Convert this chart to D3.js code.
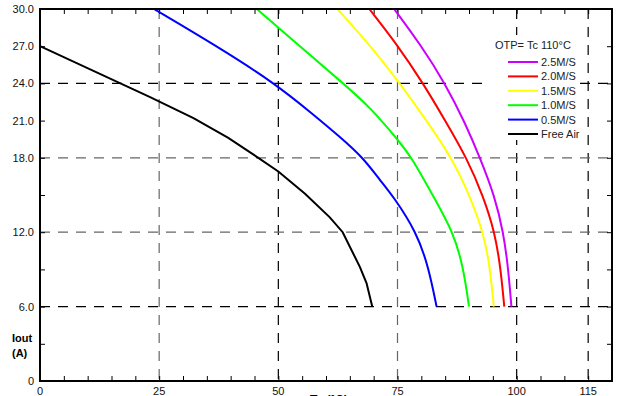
<!DOCTYPE html>
<html>
<head>
<meta charset="utf-8">
<script src="https://cdn.jsdelivr.net/npm/d3@7"></script>
<style>
  body { margin: 0; background: #fff; }
  svg { display: block; font-family: "Liberation Sans", Arial, sans-serif; }
</style>
</head>
<body>
<svg id="chart" width="617" height="396"></svg>
<script>
// derating curves, Tc in degC vs Iout in A
var seriesNames = ["2.5M/S", "2.0M/S", "1.5M/S", "1.0M/S", "0.5M/S", "Free Air"];
var seriesColors = ["#cc00ff", "#ff0000", "#ffff00", "#00ff00", "#0000ff", "#000000"];

var tc25 = [74.3, 79.7, 85.0, 89.2, 92.3, 95.4, 97.2, 98.2, 98.9];
var io25 = [30, 27.2, 24, 20.8, 18, 14.9, 12, 9.2, 6];
var tc20 = [69.1, 74.8, 80.4, 85.3, 89.5, 93.0, 95.4, 96.6, 97.4];
var io20 = [30, 27.2, 24, 20.8, 18, 14.9, 12, 9.2, 6];
var tc15 = [62.4, 69.2, 75.5, 81.1, 86.4, 90.2, 93.0, 94.4, 95.2];
var io15 = [30, 27.1, 24, 21.0, 18, 14.9, 12, 9.2, 6];
var tc10 = [45.5, 54.5, 63.6, 69.2, 75.2, 78.0, 82.5, 86.7, 88.8, 90.0];
var io10 = [30, 27.0, 24, 22.1, 19.4, 18, 14.9, 12, 9.2, 6];
var tc05 = [23.9, 37.1, 49.3, 57.3, 62.9, 67.8, 71.3, 74.1, 79.0, 81.5, 83.2];
var io05 = [30, 27.0, 24, 21.5, 19.7, 18, 16.2, 14.9, 12, 9.2, 6];
var tcAir = [0, 23.1, 32.2, 39.5, 45.8, 50.0, 55.6, 60.8, 63.5, 67.1, 68.5, 69.7];
var ioAir = [27, 22.9, 21.2, 19.6, 18, 16.9, 15.1, 13.2, 12, 9.2, 7.9, 6];

var xTicks = [0, 25, 50, 75, 100, 115];
var yTicks = [0, 6, 12, 18, 21, 24, 27, 30];
var xGrid = [25, 50, 75, 100, 115];
var yGrid = [6, 12, 18, 24];
var greyX = [25, 75];
var greyY = [12, 18];

var tcs = [tc25, tc20, tc15, tc10, tc05, tcAir];
var ios = [io25, io20, io15, io10, io05, ioAir];

var svg = d3.select("#chart");
var x = d3.scaleLinear().domain([0, 120]).range([40, 612]);
var y = d3.scaleLinear().domain([0, 30]).range([381, 9]);

// grid
svg.selectAll(".gx").data(xGrid).enter().append("line")
	.attr("x1", function(d){return x(d);}).attr("x2", function(d){return x(d);})
	.attr("y1", y(30)).attr("y2", y(0))
	.attr("stroke", function(d){return greyX.indexOf(d) >= 0 ? "#666" : "#000";})
	.attr("stroke-width", 1.2)
	.attr("stroke-dasharray", "10,8");
svg.selectAll(".gy").data(yGrid).enter().append("line")
	.attr("x1", x(0)).attr("x2", x(120))
	.attr("y1", function(d){return y(d);}).attr("y2", function(d){return y(d);})
	.attr("stroke", function(d){return greyY.indexOf(d) >= 0 ? "#666" : "#000";})
	.attr("stroke-width", 1.2)
	.attr("stroke-dasharray", "10,8");

// axes with inward ticks
var minorX = d3.range(0, 121, 5);
var minorY = d3.range(0, 31, 3);
svg.append("g").attr("transform", "translate(0," + y(0) + ")")
	.call(d3.axisTop(x).tickValues(minorX).tickFormat("").tickSize(5).tickSizeOuter(0))
	.call(function(g){ g.select(".domain").remove(); });
svg.append("g").attr("transform", "translate(0," + y(30) + ")")
	.call(d3.axisBottom(x).tickValues(minorX).tickFormat("").tickSize(5).tickSizeOuter(0))
	.call(function(g){ g.select(".domain").remove(); });
svg.append("g").attr("transform", "translate(" + x(0) + ",0)")
	.call(d3.axisRight(y).tickValues(minorY).tickFormat("").tickSize(5).tickSizeOuter(0))
	.call(function(g){ g.select(".domain").remove(); });
svg.append("g").attr("transform", "translate(" + x(120) + ",0)")
	.call(d3.axisLeft(y).tickValues(minorY).tickFormat("").tickSize(5).tickSizeOuter(0))
	.call(function(g){ g.select(".domain").remove(); });

// tick labels
svg.selectAll(".xl").data(xTicks).enter().append("text")
	.attr("x", function(d){return x(d);}).attr("y", 395)
	.attr("text-anchor", "middle").attr("font-size", "11px").attr("fill", "#111")
	.text(function(d){return d;});
svg.selectAll(".yl").data(yTicks).enter().append("text")
	.attr("x", 34).attr("y", function(d){return y(d) + 4;})
	.attr("text-anchor", "end").attr("font-size", "11px").attr("fill", "#111")
	.text(function(d){return d === 0 ? "0" : d3.format(".1f")(d);});

// axis titles
svg.append("text").attr("x", 12).attr("y", 342).attr("font-size", "11px").attr("font-weight", "bold").text("Iout");
svg.append("text").attr("x", 12).attr("y", 357).attr("font-size", "11px").attr("font-weight", "bold").text("(A)");
svg.append("text").attr("x", 310).attr("y", 404).attr("font-size", "12px").attr("font-weight", "bold").text("Tc (°C)");

// curves
var line = d3.line()
	.x(function(d){return x(d[0]);})
	.y(function(d){return y(d[1]);});
tcs.forEach(function(tc, i){
	var pts = tc.map(function(t, j){return [t, ios[i][j]];});
	line.curve(i == 5 ? d3.curveLinear : d3.curveBasis);
	svg.append("path")
		.attr("d", line(pts))
		.attr("fill", "none")
		.attr("stroke", seriesColors[i])
		.attr("stroke-width", 2);
});

// frame
svg.append("rect")
	.attr("x", x(0)).attr("y", y(30))
	.attr("width", x(120) - x(0)).attr("height", y(0) - y(30))
	.attr("fill", "none").attr("stroke", "#000").attr("stroke-width", 2);

// legend
var lg = svg.append("g");
lg.append("rect").attr("x", 489).attr("y", 35).attr("width", 91).attr("height", 105).attr("fill", "#fff");
lg.append("text").attr("x", 495).attr("y", 49).attr("font-size", "11px").attr("fill", "#222").text("OTP= Tc 110°C");
seriesNames.forEach(function(n, i){
	var yy = 62 + i * 14.4;
	lg.append("line").attr("x1", 508).attr("x2", 538).attr("y1", yy).attr("y2", yy)
		.attr("stroke", seriesColors[i]).attr("stroke-width", 2);
	lg.append("text").attr("x", 541).attr("y", yy + 4).attr("font-size", "11px").attr("fill", "#222").text(n);
});
</script>
</body>
</html>
